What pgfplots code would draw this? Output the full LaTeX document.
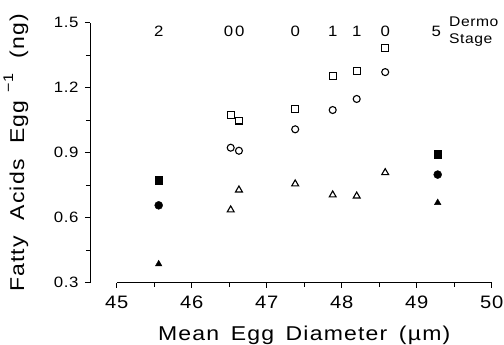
\documentclass[border=0pt]{standalone}
\usepackage{pgfplots}
\pgfplotsset{compat=1.18}
\usepackage{fontspec}
\setmainfont{Liberation Sans}[FakeStretch=1.12, LetterSpace=4]
\newfontfamily\xlab{Liberation Sans}[FakeStretch=1.15, LetterSpace=6]
\begin{document}
\begin{tikzpicture}
\begin{axis}[
  name=ax,
  scale only axis,
  width=401.7pt, height=260pt,
  xmin=44.644, xmax=50, ymin=0.3, ymax=1.5,
  axis x line=bottom, axis y line=left,
  axis line style={draw=none},
  x axis line style={-}, y axis line style={-},
  xtick={45,46,47,48,49,50},
  minor xtick={45.5,46.5,47.5,48.5,49.5},
  ytick={0.3,0.6,0.9,1.2,1.5},
  minor ytick={0.45,0.75,1.05,1.35},
  yticklabel style={/pgf/number format/fixed, /pgf/number format/fixed zerofill, /pgf/number format/precision=1, font=\fontsize{15}{18}\selectfont, xshift=-3pt},
  xticklabel style={font=\fontsize{18}{20}\selectfont, yshift=-5pt},
  /pgf/number format/assume math mode=true,
  tick align=outside,
  major tick length=5pt, minor tick length=4pt,
  every tick/.style={black, line width=0.9pt},
  clip=false,
  ylabel={Fatty\hspace{8pt} Acids\hspace{8pt} Egg \raisebox{0.55em}{\fontsize{14}{15}\selectfont −1}\hspace{8pt} (ng)},
  ylabel style={font=\xlab\fontsize{20}{22}\selectfont, at={(axis description cs:-0.145,0.5)}, anchor=south},
]
\draw[line width=0.9pt] (axis cs:45,0.3) -- (axis cs:50,0.3);
\draw[line width=0.9pt] (axis cs:44.644,0.3) -- (axis cs:44.644,1.5);

\addplot[only marks, mark=square, mark size=3.4pt, mark options={line width=1.1pt, black}] coordinates {
 (46.52,1.074) (46.63,1.048) (47.38,1.102) (47.88,1.255) (48.20,1.278) (48.58,1.382)};
\addplot[only marks, mark=o, mark size=3.5pt, mark options={line width=1.1pt, black}] coordinates {
 (46.52,0.923) (46.63,0.909) (47.38,1.008) (47.88,1.097) (48.20,1.148) (48.58,1.272)};
\addplot[only marks, mark=triangle, mark size=4pt, mark options={line width=1.1pt, black}] coordinates {
 (46.52,0.636) (46.63,0.728) (47.38,0.756) (47.88,0.705) (48.20,0.700) (48.58,0.808)};
\addplot[only marks, mark=square*, mark size=3.8pt, mark options={black, fill=black}] coordinates {
 (45.56,0.774) (49.28,0.894)};
\addplot[only marks, mark=*, mark size=4pt, mark options={black, fill=black}] coordinates {
 (45.56,0.657) (49.28,0.799)};
\addplot[only marks, mark=triangle*, mark size=3.8pt, mark options={black, fill=black}] coordinates {
 (45.56,0.386) (49.28,0.669)};

\begin{scope}[every node/.style={font=\fontsize{15}{18}\selectfont, anchor=base, inner sep=0pt}]
\node at (axis cs:45.56,1.435) {2};
\node at (axis cs:46.49,1.435) {0};
\node at (axis cs:46.64,1.435) {0};
\node at (axis cs:47.38,1.435) {0};
\node at (axis cs:47.88,1.435) {1};
\node at (axis cs:48.20,1.435) {1};
\node at (axis cs:48.58,1.435) {0};
\node at (axis cs:49.26,1.435) {5};
\end{scope}
\node[font=\fontsize{14}{16}\selectfont, anchor=base west, inner sep=0pt] at (axis cs:49.43,1.4815) {Dermo};
\node[font=\fontsize{14}{16}\selectfont, anchor=base west, inner sep=0pt] at (axis cs:49.43,1.405) {Stage};
\node[font=\xlab\fontsize{20}{22}\selectfont, anchor=base, inner sep=0pt] at ([yshift=-58pt]axis cs:47.5,0.3) {Mean\hspace{4pt} Egg\hspace{4pt} Diameter\hspace{4pt} (µm)};
\end{axis}
\pgfresetboundingbox
\path (ax.south west) ++(-90pt,-62.3pt) rectangle ++(504pt,345pt);
\end{tikzpicture}
\end{document}
